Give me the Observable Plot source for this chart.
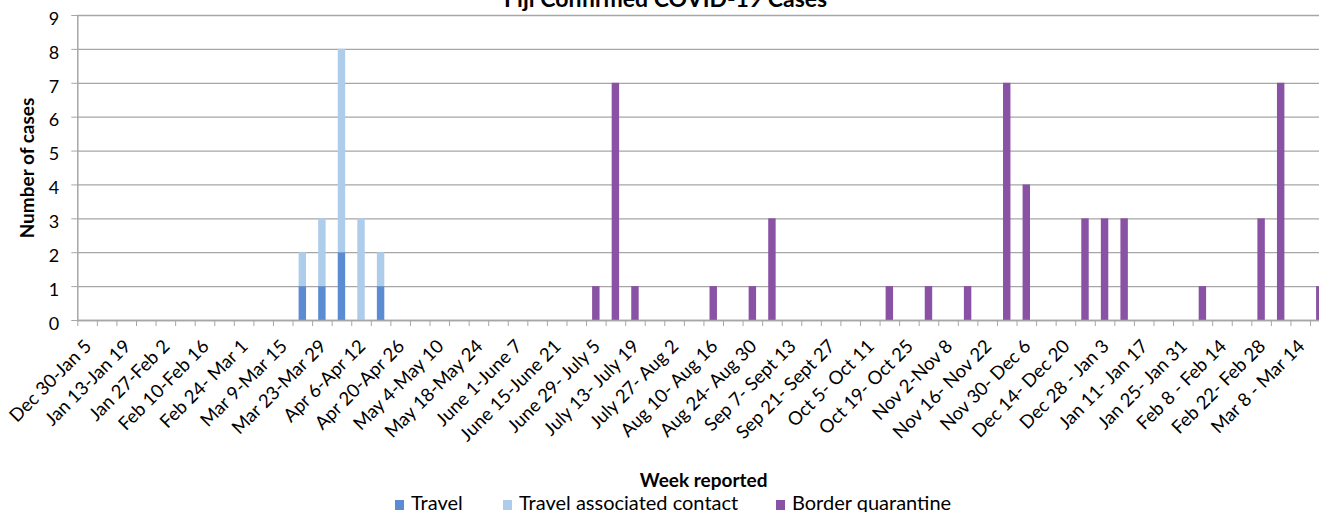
<!DOCTYPE html>
<html><head><meta charset="utf-8">
<script src="https://cdn.jsdelivr.net/npm/d3@7"></script>
<script src="https://cdn.jsdelivr.net/npm/@observablehq/plot@0.6"></script>
<style>
body{margin:0;background:#fff;font-family:Lato, sans-serif;}
#wrap{position:relative;width:1319px;height:512px;overflow:hidden;background:#fff;}
.item{position:absolute;top:493px;display:flex;align-items:baseline;font-size:20px;line-height:19px;color:#000;white-space:nowrap;}
.sw{display:inline-block;width:9px;height:10px;margin-right:7px;}
</style></head><body><div id="wrap"></div>
<script>
const weeks = [
"Dec 30-Jan 5","Jan 6-Jan 12","Jan 13-Jan 19","Jan 20-Jan 26","Jan 27-Feb 2","Feb 3-Feb 9","Feb 10-Feb 16","Feb 17-Feb 23",
"Feb 24- Mar 1","Mar 2-Mar 8","Mar 9-Mar 15","Mar 16-Mar 22","Mar 23-Mar 29","Mar 30-Apr 5","Apr 6-Apr 12","Apr 13-Apr 19",
"Apr 20-Apr 26","Apr 27-May 3","May 4-May 10","May 11-May 17","May 18-May 24","May 25-May 31","June 1-June 7","June 8-June 14",
"June 15-June 21","June 22-June 28","June 29- July 5","July 6- July 12","July 13- July 19","July 20- July 26","July 27- Aug 2","Aug 3- Aug 9",
"Aug 10- Aug 16","Aug 17- Aug 23","Aug 24- Aug 30","Aug 31- Sept 6","Sep 7- Sept 13","Sep 14- Sept 20","Sep 21- Sept 27","Sep 28- Oct 4",
"Oct 5- Oct 11","Oct 12- Oct 18","Oct 19- Oct 25","Oct 26- Nov 1","Nov 2-Nov 8","Nov 9-Nov 15","Nov 16- Nov 22","Nov 23- Nov 29",
"Nov 30- Dec 6","Dec 7- Dec 13","Dec 14- Dec 20","Dec 21- Dec 27","Dec 28 - Jan 3","Jan 4- Jan 10","Jan 11- Jan 17","Jan 18- Jan 24",
"Jan 25- Jan 31","Feb 1- Feb 7","Feb 8 - Feb 14","Feb 15- Feb 21","Feb 22- Feb 28","Mar 1- Mar 7","Mar 8 - Mar 14","Mar 15- Mar 21"
];
const tickLabels = weeks.filter((d, i) => i % 2 === 0);
const series = ["Travel", "Travel associated contact", "Border quarantine"];
const colors = ["#5b8bd2", "#aecdeb", "#8a52a4"];
const travel = [
0,0,0,0,0,0,0,0,0,0,
0,1,1,2,0,1,0,0,0,0,
0,0,0,0,0,0,0,0,0,0,
0,0,0,0,0,0,0,0,0,0,
0,0,0,0,0,0,0,0,0,0,
0,0,0,0,0,0,0,0,0,0,
0,0,0,0];
const contact = [
0,0,0,0,0,0,0,0,0,0,
0,1,2,6,3,1,0,0,0,0,
0,0,0,0,0,0,0,0,0,0,
0,0,0,0,0,0,0,0,0,0,
0,0,0,0,0,0,0,0,0,0,
0,0,0,0,0,0,0,0,0,0,
0,0,0,0];
const border = [
0,0,0,0,0,0,0,0,0,0,
0,0,0,0,0,0,0,0,0,0,
0,0,0,0,0,0,1,7,1,0,
0,0,1,0,1,3,0,0,0,0,
0,1,0,1,0,1,0,7,4,0,
0,3,3,3,0,0,0,1,0,0,
3,7,0,1];
const yTicks = [0,1,2,3,4,5,6,7,8,9];
const legendLeft = [395, 503, 776];

const rows = weeks.flatMap((w, i) => [
  {week: w, series: series[0], cases: travel[i]},
  {week: w, series: series[1], cases: contact[i]},
  {week: w, series: series[2], cases: border[i]}
]);

const left = 77.3, step = 19.567;
const gray = "#a6a6a6";

const plot = Plot.plot({
  width: 1319, height: 512,
  marginTop: 15, marginBottom: 192, marginLeft: left, marginRight: 0,
  style: {fontFamily: "Lato, sans-serif", background: "transparent", color: "#000"},
  x: {type: "band", domain: weeks, range: [left, left + step * weeks.length], paddingInner: 0.62, paddingOuter: 0.31, round: false, axis: null},
  y: {domain: [0, 9], axis: null},
  color: {domain: series, range: colors},
  marks: [
    Plot.gridY(yTicks, {stroke: gray, strokeOpacity: 1, strokeWidth: 1.3}),
    Plot.barY(rows, {x: "week", y: "cases", fill: "series"}),
    Plot.ruleY([0], {stroke: gray, strokeWidth: 1.5}),
    Plot.ruleX([weeks[0]], {y1: 0, y2: 9, dx: -step / 2, stroke: gray, strokeWidth: 1.5}),
    Plot.axisY(yTicks, {tickSize: 6, tickFormat: () => "", stroke: gray, label: null}),
    Plot.text(yTicks, {y: d => d, frameAnchor: "left", dx: -18.5, dy: 3.5, textAnchor: "end", lineAnchor: "middle", fontSize: 18, text: d => String(d)}),
    Plot.axisX(weeks, {tickSize: 6, tickFormat: () => "", dx: -step / 2, stroke: gray, label: null}),
    Plot.text(tickLabels, {x: d => d, frameAnchor: "bottom", rotate: -45, textAnchor: "end", lineAnchor: "bottom", dx: 5, dy: 27, fontSize: 18.5}),
    Plot.text(["Number of cases"], {frameAnchor: "left", rotate: -90, dx: -50, textAnchor: "middle", fontWeight: "bold", fontSize: 19, lineAnchor: "middle"}),
    Plot.text(["Fiji Confirmed COVID-19 Cases"], {frameAnchor: "top", dx: -33, dy: -9, textAnchor: "middle", lineAnchor: "bottom", fontWeight: "bold", fontSize: 23}),
    Plot.text(["Week reported"], {frameAnchor: "bottom", dx: 5, dy: 166, textAnchor: "middle", lineAnchor: "bottom", fontWeight: "bold", fontSize: 19})
  ]
});
const wrap = document.getElementById("wrap");
wrap.appendChild(plot);

series.forEach((s, i) => {
  const item = document.createElement("div");
  item.className = "item";
  item.style.left = legendLeft[i] + "px";
  const sw = document.createElement("span");
  sw.className = "sw";
  sw.style.background = colors[i];
  item.appendChild(sw);
  item.appendChild(document.createTextNode(s));
  wrap.appendChild(item);
});
</script></body></html>
